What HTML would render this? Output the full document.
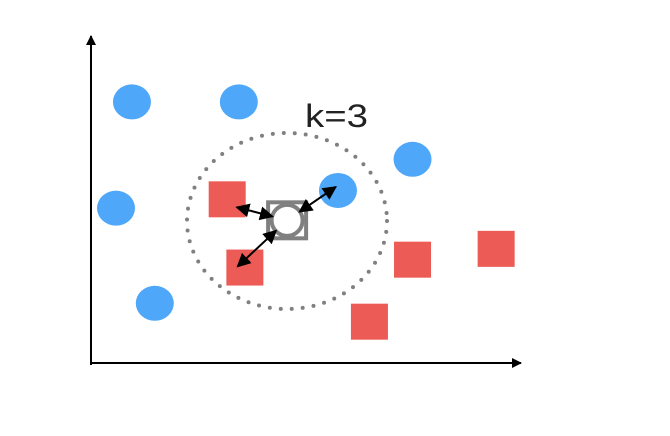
<!DOCTYPE html>
<html><head><meta charset="utf-8"><style>
html,body{margin:0;padding:0;background:#fff;width:670px;height:436px;overflow:hidden}
svg{display:block}
</style></head><body>
<svg id="chart" width="670" height="436" viewBox="0 0 670 436" xmlns="http://www.w3.org/2000/svg">
<defs>
<marker id="ah" viewBox="0 0 10 10" refX="9" refY="5" markerWidth="7" markerHeight="7" orient="auto-start-reverse"><path d="M0,0 L10,5 L0,10 z" fill="#000"/></marker>
<marker id="ax" viewBox="0 0 10 10" refX="9" refY="5" markerWidth="5" markerHeight="5" orient="auto"><path d="M0,0 L10,5 L0,10 z" fill="#000"/></marker>
</defs>
<line x1="91" y1="365" x2="91" y2="36" stroke="#000" stroke-width="2" marker-end="url(#ax)"/>
<line x1="90" y1="363" x2="521" y2="363" stroke="#000" stroke-width="2" marker-end="url(#ax)"/>
<ellipse cx="287" cy="221" rx="100" ry="88" fill="none" stroke="#808080" stroke-width="4" stroke-linecap="round" stroke-dasharray="0 11"/>
<text x="305" y="127" font-family="Liberation Sans, sans-serif" font-size="32" textLength="63" lengthAdjust="spacingAndGlyphs" fill="#222">k=3</text>
<g id="marks"></g>
</svg>
<script>
// data-space coordinates (x: 0..100, y: 0..100)
const blueX = [9.5, 34.3, 74.6, 5.8, 57.3, 14.8];
const blueY = [79.6, 79.6, 62.1, 47.2, 52.6, 18.2];
const redX = [31.6, 35.7, 74.6, 94.0, 64.6];
const redY = [49.9, 29.1, 31.5, 34.8, 12.6];
const queryX = [45.5];
const queryY = [43.5];
const neighborX = [33.8, 34.0, 56.8];
const neighborY = [47.5, 29.4, 53.7];

const x0 = 91, x1 = 522, y0 = 363, y1 = 35;
function sx(v){ return x0 + v/100*(x1-x0); }
function sy(v){ return y0 - v/100*(y0-y1); }
const NS = 'http://www.w3.org/2000/svg';
const g = document.getElementById('marks');
function mk(tag, attrs){ const e = document.createElementNS(NS, tag); for (const k in attrs) e.setAttribute(k, attrs[k]); g.appendChild(e); return e; }

blueX.forEach((v,i)=>{
  const e = mk('ellipse',{cx:sx(v),cy:sy(blueY[i]),rx:19,ry:17.5,fill:'#4ea7f8'});
  
  
});
redX.forEach((v,i)=>{
  const e = mk('rect',{x:sx(v)-18.5,y:sy(redY[i])-18,width:37,height:36,fill:'#ec5b55'});
  
  
});
const qx = sx(queryX[0]), qy = sy(queryY[0]);
const qs = mk('rect',{x:qx-19,y:qy-18,width:38,height:36,fill:'#fff',stroke:'#808080','stroke-width':4});


const qc = mk('circle',{cx:qx,cy:qy,r:15.5,fill:'#fff',stroke:'#808080','stroke-width':4});


neighborX.forEach((v,i)=>{
  const tx = sx(v), ty = sy(neighborY[i]);
  const dx = tx-qx, dy = ty-qy, d = Math.hypot(dx,dy);
  const ux = dx/d, uy = dy/d;
  const e = mk('line',{x1:qx+ux*15,y1:qy+uy*15,x2:tx,y2:ty,stroke:'#000','stroke-width':2,'marker-start':'url(#ah)','marker-end':'url(#ah)'});
  
  
});
</script>
</body></html>
